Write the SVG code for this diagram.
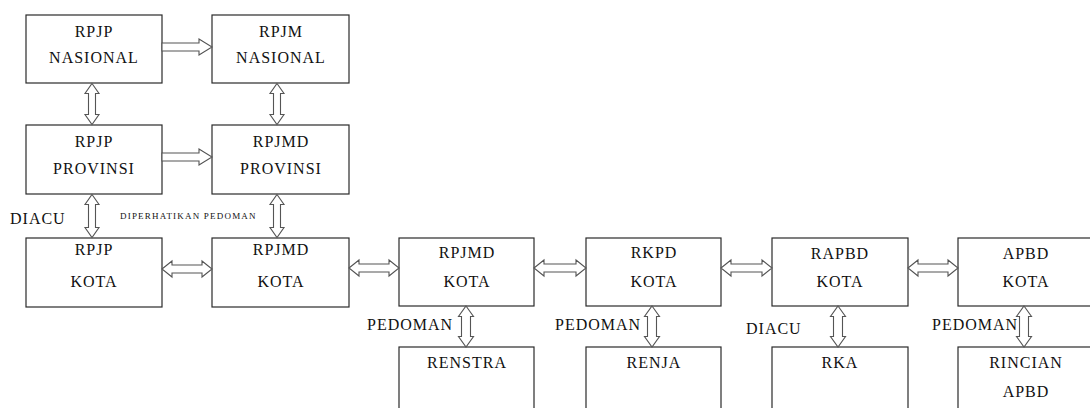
<svg xmlns="http://www.w3.org/2000/svg" width="1090" height="408" viewBox="0 0 1090 408">
<style>
.box{fill:#fff;stroke:#2a2a2a;stroke-width:1.2}
.t{font-family:"Liberation Serif","Times New Roman",serif;font-size:16px;letter-spacing:1px;fill:#111;text-anchor:middle}
.lbl{font-family:"Liberation Serif","Times New Roman",serif;font-size:16px;letter-spacing:1px;fill:#111}
.small{font-family:"Liberation Serif","Times New Roman",serif;font-size:9px;letter-spacing:1.2px;fill:#111}
.ar{fill:#fff;stroke:#555;stroke-width:1.1;stroke-linejoin:miter}
</style>
<rect width="1090" height="408" fill="#fff"/>
<g id="n-rpjp-nasional"><rect class="box" x="26" y="15" width="136" height="68"/><text class="t" x="94" y="37">RPJP</text><text class="t" x="94" y="63">NASIONAL</text></g>
<g id="n-rpjm-nasional"><rect class="box" x="212" y="15" width="137" height="68"/><text class="t" x="281" y="37">RPJM</text><text class="t" x="281" y="63">NASIONAL</text></g>
<g id="n-rpjp-provinsi"><rect class="box" x="26" y="125" width="136" height="69"/><text class="t" x="94" y="147">RPJP</text><text class="t" x="94" y="174">PROVINSI</text></g>
<g id="n-rpjmd-provinsi"><rect class="box" x="212" y="125" width="137" height="69"/><text class="t" x="281" y="147">RPJMD</text><text class="t" x="281" y="174">PROVINSI</text></g>
<g id="n-rpjp-kota"><rect class="box" x="26" y="238" width="136" height="69"/><text class="t" x="94" y="255">RPJP</text><text class="t" x="94" y="287">KOTA</text></g>
<g id="n-rpjmd-kota1"><rect class="box" x="212" y="238" width="137" height="69"/><text class="t" x="281" y="255">RPJMD</text><text class="t" x="281" y="287">KOTA</text></g>
<g id="n-rpjmd-kota2"><rect class="box" x="399" y="238" width="135" height="68"/><text class="t" x="467" y="258">RPJMD</text><text class="t" x="467" y="287">KOTA</text></g>
<g id="n-rkpd-kota"><rect class="box" x="586" y="238" width="135" height="68"/><text class="t" x="654" y="258">RKPD</text><text class="t" x="654" y="287">KOTA</text></g>
<g id="n-rapbd-kota"><rect class="box" x="772" y="238" width="136" height="68"/><text class="t" x="840" y="259">RAPBD</text><text class="t" x="840" y="287">KOTA</text></g>
<g id="n-apbd-kota"><rect class="box" x="958" y="238" width="136" height="68"/><text class="t" x="1026" y="259">APBD</text><text class="t" x="1026" y="287">KOTA</text></g>
<g id="n-renstra"><rect class="box" x="399" y="347" width="135" height="70"/><text class="t" x="467" y="368">RENSTRA</text></g>
<g id="n-renja"><rect class="box" x="586" y="347" width="135" height="70"/><text class="t" x="654" y="368">RENJA</text></g>
<g id="n-rka"><rect class="box" x="772" y="347" width="136" height="70"/><text class="t" x="840" y="368">RKA</text></g>
<g id="n-rincian-apbd"><rect class="box" x="958" y="347" width="136" height="70"/><text class="t" x="1026" y="368">RINCIAN</text><text class="t" x="1026" y="397">APBD</text></g>
<g id="connectors">
<polygon class="ar" points="162,43 199,43 199,39 212,47 199,55 199,51 162,51"/>
<polygon class="ar" points="162,153 199,153 199,149 212,157 199,165 199,161 162,161"/>
<polygon class="ar" points="92,83.5 99,93.5 95.5,93.5 95.5,114.5 99,114.5 92,124.5 85,114.5 88.5,114.5 88.5,93.5 85,93.5"/>
<polygon class="ar" points="277,83.5 284,93.5 280.5,93.5 280.5,114.5 284,114.5 277,124.5 270,114.5 273.5,114.5 273.5,93.5 270,93.5"/>
<polygon class="ar" points="92,194.5 99,204.5 95.5,204.5 95.5,227.5 99,227.5 92,237.5 85,227.5 88.5,227.5 88.5,204.5 85,204.5"/>
<polygon class="ar" points="277,194.5 284,204.5 280.5,204.5 280.5,227.5 284,227.5 277,237.5 270,227.5 273.5,227.5 273.5,204.5 270,204.5"/>
<polygon class="ar" points="162,269 172,261 172,265 202,265 202,261 212,269 202,277 202,273 172,273 172,277"/>
<polygon class="ar" points="349,268 359,260 359,264 389,264 389,260 399,268 389,276 389,272 359,272 359,276"/>
<polygon class="ar" points="534,268 544,260 544,264 576,264 576,260 586,268 576,276 576,272 544,272 544,276"/>
<polygon class="ar" points="721,268 731,260 731,264 762,264 762,260 772,268 762,276 762,272 731,272 731,276"/>
<polygon class="ar" points="908,268 918,260 918,264 948,264 948,260 958,268 948,276 948,272 918,272 918,276"/>
<polygon class="ar" points="466,306 473.5,316.5 470.5,316.5 470.5,336.5 473.5,336.5 466,347 458.5,336.5 461.5,336.5 461.5,316.5 458.5,316.5"/>
<polygon class="ar" points="652,306 659.5,316.5 656.5,316.5 656.5,336.5 659.5,336.5 652,347 644.5,336.5 647.5,336.5 647.5,316.5 644.5,316.5"/>
<polygon class="ar" points="838,306 845.5,316.5 842.5,316.5 842.5,336.5 845.5,336.5 838,347 830.5,336.5 833.5,336.5 833.5,316.5 830.5,316.5"/>
<polygon class="ar" points="1024,306 1031.5,316.5 1028.5,316.5 1028.5,336.5 1031.5,336.5 1024,347 1016.5,336.5 1019.5,336.5 1019.5,316.5 1016.5,316.5"/>
</g>
<text class="lbl" x="10" y="224">DIACU</text>
<text class="small" x="120" y="219">DIPERHATIKAN PEDOMAN</text>
<text class="lbl" x="367" y="330">PEDOMAN</text>
<text class="lbl" x="555" y="330">PEDOMAN</text>
<text class="lbl" x="746" y="334">DIACU</text>
<text class="lbl" x="932" y="330">PEDOMAN</text>
</svg>
